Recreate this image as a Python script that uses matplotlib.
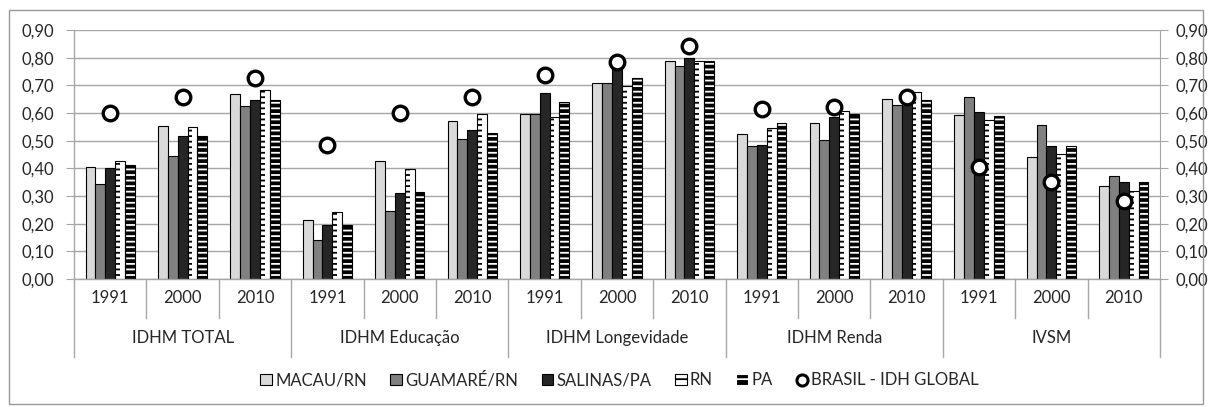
import matplotlib.pyplot as plt
import matplotlib.transforms as mtransforms
from matplotlib.patches import Patch, Rectangle
from matplotlib.lines import Line2D
import numpy as np

plt.rcParams['font.family'] = ['Lato', 'DejaVu Sans']
plt.rcParams['hatch.linewidth'] = 1.3

# indicadores e anos
indicadores = ['IDHM TOTAL', 'IDHM Educação', 'IDHM Longevidade', 'IDHM Renda', 'IVSM']
anos = ['1991', '2000', '2010']

macau = [0.406, 0.554, 0.667, 0.213, 0.426, 0.570, 0.596, 0.709, 0.789,
         0.523, 0.565, 0.650, 0.593, 0.442, 0.336]
guamare = [0.342, 0.444, 0.624, 0.141, 0.247, 0.507, 0.596, 0.709, 0.769,
           0.480, 0.501, 0.628, 0.657, 0.555, 0.373]
salinas = [0.400, 0.518, 0.647, 0.194, 0.311, 0.540, 0.672, 0.761, 0.799,
           0.484, 0.587, 0.632, 0.602, 0.481, 0.352]
rn = [0.426, 0.550, 0.683, 0.241, 0.396, 0.596, 0.587, 0.699, 0.789,
      0.545, 0.608, 0.677, 0.575, 0.451, 0.319]
pa = [0.412, 0.518, 0.647, 0.194, 0.316, 0.529, 0.641, 0.726, 0.789,
      0.565, 0.596, 0.646, 0.588, 0.481, 0.352]
brasil = [0.601, 0.657, 0.725, 0.485, 0.601, 0.657, 0.736, 0.785, 0.842,
          0.613, 0.623, 0.657, 0.404, 0.352, 0.283]

yticks = [0.0, 0.1, 0.2, 0.3, 0.4, 0.5, 0.6, 0.7, 0.8, 0.9]
ytick_labels = ['0,00', '0,10', '0,20', '0,30', '0,40', '0,50', '0,60', '0,70', '0,80', '0,90']

grid_col = '#a6a6a6'
txt_col = '#262626'
fs = 12

fig = plt.figure(figsize=(12.1, 4.07), dpi=100)
ax = fig.add_axes([74 / 1210, 1 - 279 / 407, (1160 - 74) / 1210, (279 - 30) / 407])

x = np.arange(len(macau))
w = 0.136

ax.bar(x - 2 * w, macau, w, color='#d9d9d9', edgecolor='black', linewidth=0.8, zorder=2)
ax.bar(x - w, guamare, w, color='#808080', edgecolor='black', linewidth=0.8, zorder=2)
ax.bar(x, salinas, w, color='#262626', edgecolor='black', linewidth=0.8, zorder=2)

# RN: branco com tracos so na metade esquerda
ax.bar(x + w, rn, w, color='white', linewidth=0, zorder=2)
ax.bar(x + w - w / 4, rn, w / 2, facecolor='none', edgecolor='black', hatch='---',
       linewidth=0, zorder=3)
ax.bar(x + w, rn, w, fill=False, edgecolor='black', linewidth=0.8, zorder=4)

# PA: preto com linhas brancas
ax.bar(x + 2 * w, pa, w, color='black', edgecolor='white', hatch='---', linewidth=0, zorder=2)
ax.bar(x + 2 * w, pa, w, fill=False, edgecolor='black', linewidth=0.8, zorder=4)

ax.plot(x, brasil, linestyle='none', marker='o', markersize=10.5, markerfacecolor='white',
        markeredgecolor='black', markeredgewidth=2.4, zorder=6, clip_on=False)

ax.set_xlim(-0.5, len(macau) - 0.5)
ax.set_ylim(0, 0.9)
ax.set_yticks(yticks)
ax.set_yticklabels(ytick_labels, fontsize=fs, color=txt_col)
ax.tick_params(axis='y', length=6, color=grid_col, pad=8)
ax.set_xticks([])
ax.yaxis.grid(True, color=grid_col, linewidth=1)
ax.set_axisbelow(True)
for s in ['top', 'right']:
    ax.spines[s].set_visible(False)
for s in ['left', 'bottom']:
    ax.spines[s].set_color(grid_col)
    ax.spines[s].set_linewidth(1)

ax2 = ax.twinx()
ax2.set_ylim(0, 0.9)
ax2.set_yticks(yticks)
ax2.set_yticklabels(ytick_labels, fontsize=fs, color=txt_col)
ax2.tick_params(axis='y', length=6, color=grid_col, pad=5)
for s in ['top', 'left', 'bottom']:
    ax2.spines[s].set_visible(False)
ax2.spines['right'].set_color(grid_col)

# eixo x em dois niveis
trans = mtransforms.blended_transform_factory(ax.transData, ax.transAxes)
for k in range(len(macau) + 1):
    low = -0.313 if k % 3 == 0 else -0.157
    ax.plot([k - 0.5, k - 0.5], [0, low], color=grid_col, linewidth=1,
            transform=trans, clip_on=False)
for i in range(len(macau)):
    ax.text(i, -0.076, anos[i % 3], transform=trans, ha='center', va='center',
            fontsize=fs, color=txt_col)
for j, nome in enumerate(indicadores):
    ax.text(3 * j + 1, -0.237, nome, transform=trans, ha='center', va='center',
            fontsize=fs, color=txt_col)

handles = [
    Patch(facecolor='#d9d9d9', edgecolor='black', linewidth=0.8),
    Patch(facecolor='#808080', edgecolor='black', linewidth=0.8),
    Patch(facecolor='#262626', edgecolor='black', linewidth=0.8),
    Patch(facecolor='white', edgecolor='black', hatch='--', linewidth=0.8),
    Patch(facecolor='black', edgecolor='white', hatch='--', linewidth=0.8),
    Line2D([], [], linestyle='none', marker='o', markersize=8, markerfacecolor='white',
           markeredgecolor='black', markeredgewidth=2.2),
]
labels = ['MACAU/RN', 'GUAMARÉ/RN', 'SALINAS/PA', 'RN', 'PA', 'BRASIL - IDH GLOBAL']
fig.legend(handles, labels, loc='center', bbox_to_anchor=(0.512, 0.066), ncol=6,
           frameon=False, fontsize=fs, handlelength=0.7, handleheight=0.7,
           handletextpad=0.2, columnspacing=1.4, labelcolor=txt_col)

fig.add_artist(Rectangle((9 / 1210, 1 - 404 / 407), (1203 - 9) / 1210, (404 - 10) / 407,
                         transform=fig.transFigure, fill=False, edgecolor='#999999',
                         linewidth=1))

fig.savefig('out.png', dpi=100)
